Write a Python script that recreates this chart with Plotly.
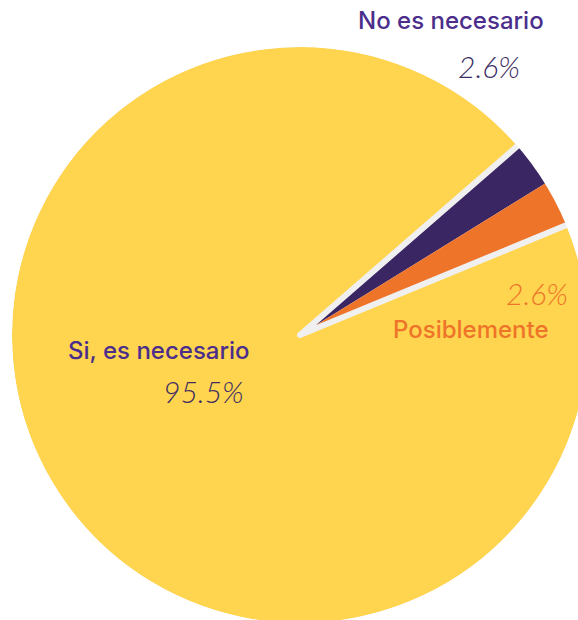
import plotly.graph_objects as go

# datos de la encuesta
etiquetas = ["No es necesario", "Posiblemente", "Si, es necesario"]
valores = [2.6, 2.6, 95.5]
colores = ["#3B2664", "#EE742A", "#FFD44E"]
color_texto = ["#4B2E8C", "#EE742A", "#4B2E8C"]
color_pct = ["#3C2C63", "#EE742A", "#3C2C63"]

W, H = 600, 650
CX, CY, R = 300, 335, 291   # centro y radio de la tarta (px)


def dominio(r):
    return dict(x=[(CX - r) / W, (CX + r) / W], y=[1 - (CY + r) / H, 1 - (CY - r) / H])


fig = go.Figure()

fig.add_trace(go.Pie(
    labels=etiquetas,
    values=valores,
    sort=False,
    direction="clockwise",
    rotation=49,
    marker=dict(colors=colores,
                line=dict(color="#F1F0F0", width=[0, 0, 6])),
    textinfo="none",
    hoverinfo="label+value",
    showlegend=False,
    domain=dominio(R),
))

# anillo blanco que tapa el borde gris exterior
fig.add_trace(go.Pie(
    values=[1],
    hole=(R - 3) / (R + 5),
    marker=dict(colors=["white"], line=dict(width=0)),
    textinfo="none",
    hoverinfo="skip",
    showlegend=False,
    sort=False,
    domain=dominio(R + 5),
))

# posiciones de las etiquetas (px desde arriba-izquierda)
pos_lab = [(546, 21), (551, 329), (252, 350)]
pos_pct = [(522, 66), (570, 293), (246, 391)]

for i, nombre in enumerate(etiquetas):
    fig.add_annotation(
        x=pos_lab[i][0] / W, y=1 - pos_lab[i][1] / H, xref="paper", yref="paper",
        text=nombre, showarrow=False, xanchor="right", yanchor="middle",
        font=dict(family="Inter", size=24, weight=500, color=color_texto[i]),
    )
    fig.add_annotation(
        x=pos_pct[i][0] / W, y=1 - pos_pct[i][1] / H, xref="paper", yref="paper",
        text=f"{valores[i]}%", showarrow=False, xanchor="right", yanchor="middle",
        font=dict(family="Lato", size=30, weight=300, style="italic", color=color_pct[i]),
    )

fig.update_layout(
    width=W, height=H,
    margin=dict(l=0, r=0, t=0, b=0),
    paper_bgcolor="white",
    plot_bgcolor="white",
)

fig.write_html("out.html", config={"displayModeBar": False},
               post_script="document.body.style.margin='0';document.body.style.overflow='hidden';")
